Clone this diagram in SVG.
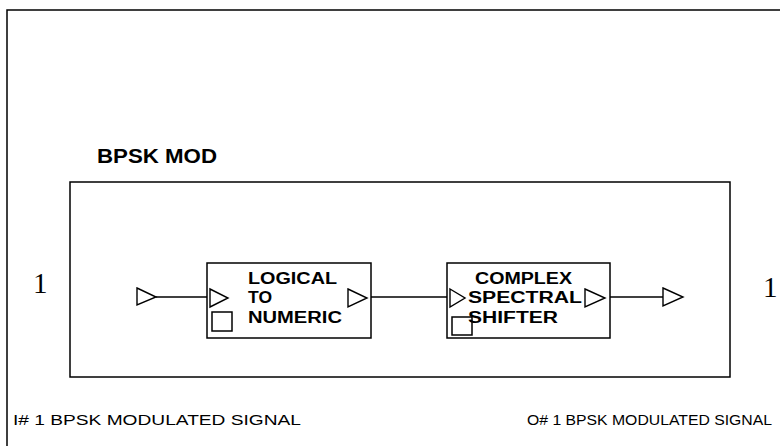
<svg xmlns="http://www.w3.org/2000/svg" width="780" height="446" viewBox="0 0 780 446">
  <defs>
    <style>
      .frame { fill: none; stroke: #000; stroke-width: 1.5; }
      .block { fill: #fff; stroke: #000; stroke-width: 1.5; }
      .port { fill: #fff; stroke: #000; stroke-width: 1.4; stroke-linejoin: miter; }
      .wire { fill: none; stroke: #000; stroke-width: 1.4; }
      .lbl { font-family: "Liberation Sans", Arial, sans-serif; font-weight: bold; font-size: 16px; fill: #000; }
      .title { font-family: "Liberation Sans", Arial, sans-serif; font-weight: bold; font-size: 21px; fill: #000; }
      .num { font-family: "Liberation Serif", "Times New Roman", serif; font-size: 29px; fill: #000; }
      .note { font-family: "Liberation Sans", Arial, sans-serif; font-size: 14px; fill: #000; }
    </style>
  </defs>

  <rect width="780" height="446" fill="#fff"/>

  <!-- outer sheet border -->
  <path class="frame" d="M7,446 V10 H780"/>

  <!-- module title and enclosure -->
  <g id="bpsk-mod">
    <text class="title" x="97" y="163" textLength="120" lengthAdjust="spacingAndGlyphs">BPSK MOD</text>
    <rect class="frame" x="70" y="182" width="660" height="195"/>
  </g>

  <!-- external pin numbers -->
  <text class="num" x="33" y="293">1</text>
  <text class="num" x="763" y="297">1</text>

  <!-- module input port -->
  <g id="in-port">
    <polygon class="port" points="137,288 156,297 137,305"/>
  </g>

  <!-- logical to numeric converter -->
  <g id="logical-to-numeric">
    <rect class="block" x="207" y="263" width="164" height="75"/>
    <polygon class="port" points="210,289 228,298 210,307"/>
    <polygon class="port" points="348,289 367,298 348,307"/>
    <rect class="block" x="212" y="312" width="20" height="19"/>
    <text class="lbl" x="248" y="284" textLength="89" lengthAdjust="spacingAndGlyphs">LOGICAL</text>
    <text class="lbl" x="248" y="303" textLength="24" lengthAdjust="spacingAndGlyphs">TO</text>
    <text class="lbl" x="248" y="323" textLength="94" lengthAdjust="spacingAndGlyphs">NUMERIC</text>
  </g>

  <!-- complex spectral shifter -->
  <g id="complex-spectral-shifter">
    <rect class="block" x="447" y="263" width="163" height="75"/>
    <polygon class="port" points="450,289 465,298 450,307"/>
    <polygon class="port" points="585,289 605,298 585,307"/>
    <rect class="block" x="452" y="317" width="20" height="18"/>
    <text class="lbl" x="475" y="284" textLength="97" lengthAdjust="spacingAndGlyphs">COMPLEX</text>
    <text class="lbl" x="468" y="303" textLength="114" lengthAdjust="spacingAndGlyphs">SPECTRAL</text>
    <text class="lbl" x="468" y="323" textLength="90" lengthAdjust="spacingAndGlyphs">SHIFTER</text>
  </g>

  <!-- module output port -->
  <g id="out-port">
    <polygon class="port" points="663,288 683,297 663,306"/>
  </g>

  <!-- signal wires -->
  <g id="connectors">
    <line class="wire" x1="156" y1="297" x2="207" y2="297"/>
    <line class="wire" x1="371" y1="297" x2="447" y2="297"/>
    <line class="wire" x1="610" y1="297" x2="663" y2="297"/>
  </g>

  <!-- pin descriptions -->
  <text class="note" x="13" y="425" textLength="288" lengthAdjust="spacingAndGlyphs">I# 1 BPSK MODULATED SIGNAL</text>
  <text class="note" x="527" y="425" textLength="245" lengthAdjust="spacingAndGlyphs">O# 1 BPSK MODULATED SIGNAL</text>
</svg>
